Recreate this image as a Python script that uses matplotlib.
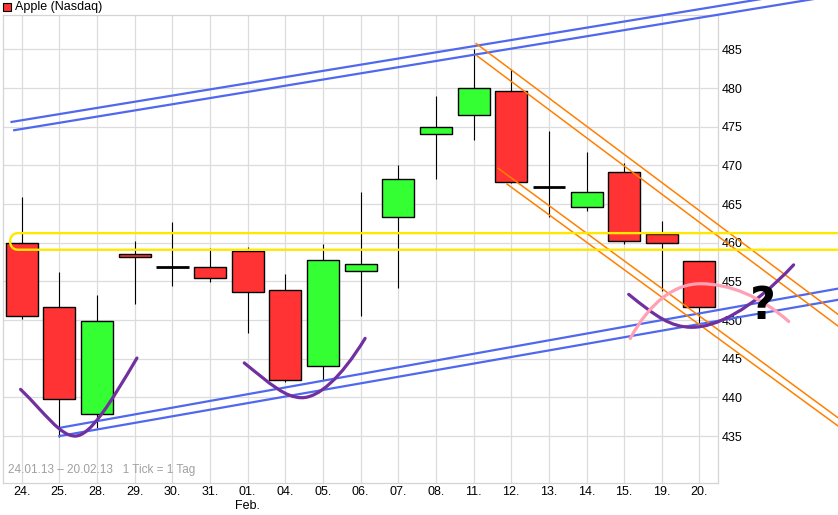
import matplotlib
matplotlib.use('Agg')
import matplotlib.pyplot as plt
from matplotlib.patches import Rectangle, PathPatch
from matplotlib.path import Path

plt.rcParams['font.family'] = ['Liberation Sans', 'DejaVu Sans']

# daily candles, Apple (Nasdaq) 24.01.13 - 20.02.13
dates = ['24.', '25.', '28.', '29.', '30.', '31.', '01.\nFeb.', '04.', '05.', '06.',
         '07.', '08.', '11.', '12.', '13.', '14.', '15.', '19.', '20.']
opens = [460.0, 451.75, 437.8, 458.5, 456.9, 456.9, 458.9, 453.9, 444.1, 456.4,
         463.3, 474.1, 476.5, 479.6, 467.2, 464.6, 469.2, 461.1, 457.7]
closes = [450.5, 439.8, 449.9, 458.2, 456.9, 455.5, 453.6, 442.2, 457.8, 457.3,
          468.3, 475.0, 480.0, 467.9, 467.2, 466.6, 460.2, 460.0, 451.7]
highs = [465.9, 456.2, 453.3, 460.2, 462.7, 459.3, 459.5, 455.9, 459.8, 466.6,
         470.0, 479.0, 485.1, 482.5, 474.5, 471.8, 470.3, 462.8, 457.7]
lows = [450.2, 434.9, 436.0, 452.1, 454.45, 454.95, 448.3, 441.95, 442.2, 450.5,
        454.1, 468.3, 473.3, 467.7, 463.3, 464.05, 459.85, 453.7, 449.6]
yticks = [435, 440, 445, 450, 455, 460, 465, 470, 475, 480, 485]

# hand drawn trend lines (day index, price)
blue_lines = [[(-0.27, 475.63), (21.69, 493.16)],
              [(-0.2, 474.56), (21.69, 492.05)],
              [(1.0, 436.06), (21.69, 454.08)],
              [(1.0, 435.0), (21.69, 452.63)]]
orange_lines = [[(12.07, 485.76), (21.69, 450.70)],
                [(12.09, 484.19), (21.69, 449.19)],
                [(12.66, 469.61), (21.69, 437.33)],
                [(12.89, 467.59), (21.69, 436.27)]]
yellow_band = (459.10, 461.25)
# bezier strokes: start, c1, c2, mid, c3, c4, end
purple_curves = [
    [(-0.03, 441.04), (0.62, 437.96), (1.02, 435.0), (1.42, 435.0),
     (1.82, 435.0), (2.35, 439.24), (3.06, 445.09)],
    [(5.91, 444.46), (6.6, 441.75), (7.0, 439.96), (7.44, 439.96),
     (7.87, 439.96), (8.46, 442.38), (9.12, 447.64)],
    [(16.12, 453.33), (16.83, 450.54), (17.23, 449.07), (17.8, 449.07),
     (18.42, 449.07), (19.35, 451.16), (20.5, 457.14)],
]
pink_curve = [(16.16, 447.61), (16.69, 452.41), (17.36, 454.70), (18.02, 454.70),
              (18.82, 454.70), (19.62, 453.04), (20.37, 449.82)]

fig = plt.figure(figsize=(8.38, 5.15), dpi=100)
ax = fig.add_axes([2.9 / 838, 32 / 515, 715.4 / 838, 468 / 515])
ax.set_xlim(-0.5, 18.5)
ax.set_ylim(428.93, 489.46)

x = range(len(dates))
ax.vlines(x, lows, highs, color='black', lw=0.8, zorder=2)
for i in x:
    o, c = opens[i], closes[i]
    if o == c:
        ax.hlines(o, i - 0.43, i + 0.43, color='black', lw=2.0, zorder=3)
        continue
    col = '#33FF33' if c > o else '#FF3333'
    ax.add_patch(Rectangle((i - 0.425, min(o, c)), 0.85, abs(c - o),
                           facecolor=col, edgecolor='black', lw=1.0, zorder=3))

for (p0, p1) in blue_lines:
    ax.plot([p0[0], p1[0]], [p0[1], p1[1]], color='#5068EE', lw=1.6,
            zorder=5, clip_on=False)
for (p0, p1) in orange_lines:
    ax.plot([p0[0], p1[0]], [p0[1], p1[1]], color='#FF8000', lw=1.1,
            zorder=5, clip_on=False)

# yellow rounded band
lo, hi = yellow_band
cx, kx = -0.1, -0.38
band = Path([(21.69, hi), (cx, hi), (kx, hi), (kx, lo), (cx, lo), (21.69, lo)],
            [Path.MOVETO, Path.LINETO, Path.CURVE4, Path.CURVE4, Path.CURVE4, Path.LINETO])
ax.add_patch(PathPatch(band, fill=False, edgecolor='#FFE800', lw=1.7,
                       zorder=6, clip_on=False))

codes = [Path.MOVETO] + [Path.CURVE4] * 6
for pts in purple_curves:
    ax.add_patch(PathPatch(Path(pts, codes), fill=False, edgecolor='#7030A0',
                           lw=2.3, zorder=7, clip_on=False, capstyle='round'))
ax.add_patch(PathPatch(Path(pink_curve, codes), fill=False, edgecolor='#FFA0B4',
                       lw=2.3, zorder=7, clip_on=False, capstyle='round'))

ax.text(19.67, 451.7, '?', fontsize=32, fontweight='bold', ha='center',
        va='center', family='DejaVu Sans', zorder=8, clip_on=False)

ax.set_xticks(list(x))
ax.set_xticklabels(dates, fontsize=9)
ax.set_yticks(yticks)
ax.set_yticklabels([str(t) for t in yticks], fontsize=9)
ax.yaxis.tick_right()
ax.tick_params(length=0, pad=2.5)
ax.grid(True, color='#DCDCDC', lw=0.9)
ax.set_axisbelow(True)
for s in ax.spines.values():
    s.set_color('#D4D4D4')
    s.set_linewidth(0.9)

ax.text(5 / 715.4, 0.015, '24.01.13 \u2013 20.02.13   1 Tick = 1 Tag', transform=ax.transAxes,
        fontsize=8.5, color='#A0A0A0', ha='left', va='bottom')

fig.add_artist(Rectangle((3 / 838, 1 - 11 / 515), 8 / 838, 8 / 515,
                         transform=fig.transFigure, facecolor='#FF3333',
                         edgecolor='black', lw=0.8))
fig.text(15 / 838, 1 - 7 / 515, 'Apple (Nasdaq)', fontsize=9, ha='left', va='center')

fig.savefig('out.png', dpi=100)
